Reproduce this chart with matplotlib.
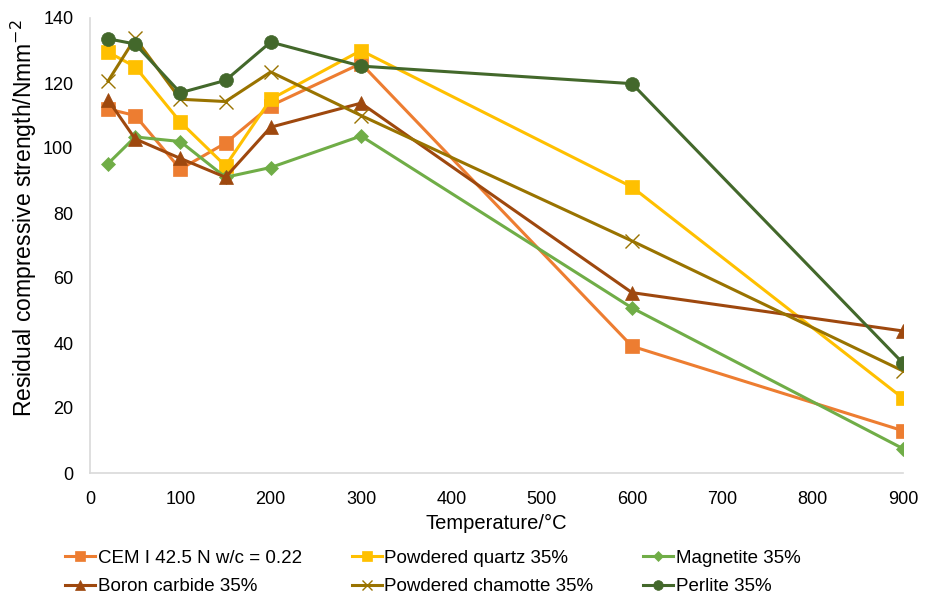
import matplotlib
matplotlib.use("Agg")
import matplotlib.pyplot as plt

temperature = [20, 50, 100, 150, 200, 300, 600, 900]

cem = [112, 110, 93.5, 101.5, 113, 126, 39, 13]
quartz = [129.5, 125, 108, 94.5, 115, 130, 88, 23]
magnetite = [95.2, 103.4, 102, 91, 94, 103.7, 50.8, 7.5]
boron = [114.8, 102.8, 96.8, 91, 106.4, 113.8, 55.5, 43.7]
chamotte = [120.6, 133.8, 115, 114.3, 123.4, 110, 71.4, 31.4]
perlite = [133.6, 132, 117, 120.8, 132.6, 125.2, 119.8, 33.8]

names = [
    "CEM I 42.5 N w/c = 0.22",
    "Powdered quartz 35%",
    "Magnetite 35%",
    "Boron carbide 35%",
    "Powdered chamotte 35%",
    "Perlite 35%",
]

plt.rcParams["font.family"] = ["Liberation Sans", "DejaVu Sans"]

styles = [
    (cem, "#ED7D31", "s", 10),
    (quartz, "#FFC000", "s", 10),
    (magnetite, "#70AD47", "D", 7),
    (boron, "#9E480E", "^", 10),
    (chamotte, "#997300", "x", 10),
    (perlite, "#43682B", "o", 10),
]

fig = plt.figure(figsize=(9.3, 6.02), dpi=100)
ax = fig.add_axes([90 / 930, 1 - 473 / 602, 813 / 930, 455 / 602])

lines = []
for (values, color, marker, size), name in zip(styles, names):
    line, = ax.plot(
        temperature,
        values,
        color=color,
        linewidth=2.2,
        marker=marker,
        markersize=size,
        markeredgewidth=1.0 if marker == "x" else 0.5,
        markeredgecolor=color,
        label=name,
    )
    lines.append(line)

ax.set_xlim(0, 900)
ax.set_ylim(0, 140)
ax.set_xticks(range(0, 1000, 100))
ax.set_yticks(range(0, 160, 20))
ax.tick_params(axis="both", length=0, labelsize=13)
ax.tick_params(axis="x", pad=13)
ax.tick_params(axis="y", pad=12)
for side in ("top", "right"):
    ax.spines[side].set_visible(False)
for side in ("left", "bottom"):
    ax.spines[side].set_color("#D9D9D9")
    ax.spines[side].set_linewidth(1.2)

ax.set_xlabel("Temperature/°C", fontsize=14.5, labelpad=4)
ax.set_ylabel("Residual compressive strength/Nmm$^{-2}$", fontsize=16.5,
              va="center")
ax.yaxis.set_label_coords(-0.081, 0.56)

# legend fills column-wise, so interleave the two rows
order = [0, 3, 1, 4, 2, 5]
fig.legend(
    [lines[i] for i in order],
    [names[i] for i in order],
    ncol=3,
    loc="upper left",
    bbox_to_anchor=(48 / 930, 1 - 533 / 602),
    frameon=False,
    fontsize=13.5,
    markerscale=0.7,
    handlelength=1.6,
    handletextpad=0.15,
    columnspacing=2.65,
    labelspacing=0.6,
)

fig.savefig("out.png", dpi=100)
